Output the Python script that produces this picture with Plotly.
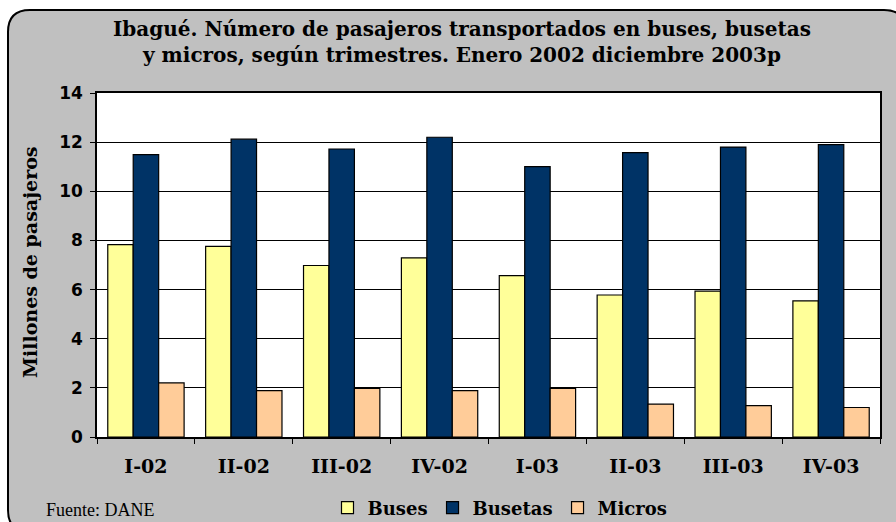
import plotly.graph_objects as go

# Quarterly passengers (millions) by vehicle type, Ibagué 2002-2003
trimestres = ["I-02", "II-02", "III-02", "IV-02", "I-03", "II-03", "III-03", "IV-03"]
buses = [7.83, 7.76, 6.98, 7.29, 6.57, 5.78, 5.94, 5.54]
busetas = [11.49, 12.12, 11.72, 12.20, 11.00, 11.57, 11.80, 11.90]
micros = [2.20, 1.89, 1.98, 1.89, 1.98, 1.34, 1.28, 1.20]
y_ticks = [0, 2, 4, 6, 8, 10, 12, 14]

W_PX, H_PX = 896, 522
L, R, T, B = 97, 16, 93, 85
PW, PH = W_PX - L - R, H_PX - T - B


def px(x):
    return (x - L) / PW


def py(y):
    return (H_PX - B - y) / PH


serif_b = dict(family="DejaVu Serif", color="black", weight="bold")

fig = go.Figure()
for name, vals, color in [("Buses", buses, "#FFFF99"),
                          ("Busetas", busetas, "#003366"),
                          ("Micros", micros, "#FFCC99")]:
    fig.add_trace(go.Bar(
        x=trimestres, y=vals, name=name,
        marker=dict(color=color, line=dict(color="black", width=1.2)),
    ))

# rounded grey frame around the whole chart
x0, y0, x1, y1, r = 8, 10, 906, 532, 22
frame_path = (
    f"M {px(x0 + r)},{py(y0)} L {px(x1 - r)},{py(y0)} "
    f"Q {px(x1)},{py(y0)} {px(x1)},{py(y0 + r)} "
    f"L {px(x1)},{py(y1 - r)} Q {px(x1)},{py(y1)} {px(x1 - r)},{py(y1)} "
    f"L {px(x0 + r)},{py(y1)} Q {px(x0)},{py(y1)} {px(x0)},{py(y1 - r)} "
    f"L {px(x0)},{py(y0 + r)} Q {px(x0)},{py(y0)} {px(x0 + r)},{py(y0)} Z"
)
fig.add_shape(type="path", path=frame_path, xref="paper", yref="paper",
              fillcolor="#C0C0C0", line=dict(color="black", width=2),
              layer="below")
fig.add_shape(type="rect", xref="paper", yref="paper", x0=0, y0=0, x1=1, y1=1,
              fillcolor="white", line=dict(width=0), layer="below")

fig.add_annotation(
    text="Ibagué. Número de pasajeros transportados en buses, busetas<br>"
         "y micros, según trimestres. Enero 2002 diciembre 2003p",
    xref="paper", yref="paper", x=px(462), y=py(42), xanchor="center",
    yanchor="middle", showarrow=False, align="center",
    font=dict(size=20, **serif_b),
)
fig.add_annotation(
    text="Millones de pasajeros", textangle=-90,
    xref="paper", yref="paper", x=px(30), y=py(262), xanchor="center",
    yanchor="middle", showarrow=False, font=dict(size=19, **serif_b),
)
fig.add_annotation(
    text="Fuente: DANE", xref="paper", yref="paper", x=px(44), y=py(510),
    xanchor="left", yanchor="middle", showarrow=False,
    font=dict(family="Liberation Serif", size=18, color="black"),
)

fig.update_layout(
    width=W_PX, height=H_PX,
    margin=dict(l=L, r=R, t=T, b=B, autoexpand=False),
    paper_bgcolor="white", plot_bgcolor="rgba(0,0,0,0)",
    barmode="group", bargap=0.22, bargroupgap=0,
    showlegend=True,
    legend=dict(orientation="h", x=px(500), y=py(508), xanchor="center",
                yanchor="middle", font=dict(size=18, **serif_b),
                itemwidth=30, bgcolor="rgba(0,0,0,0)"),
    xaxis=dict(
        tickson="boundaries", ticks="outside", ticklen=5, tickcolor="black",
        showline=True, linecolor="black", linewidth=1.5, mirror=True,
        tickfont=dict(size=19, **serif_b), ticklabelstandoff=11,
        showgrid=False,
    ),
    yaxis=dict(
        range=[0, 14], tickvals=y_ticks, ticks="outside", ticklen=5,
        tickcolor="black", showline=True, linecolor="black", linewidth=1.5,
        mirror=True, showgrid=True, gridcolor="black", gridwidth=1,
        tickfont=dict(family="DejaVu Sans", size=17, color="black", weight="bold"),
        ticklabelstandoff=4, zeroline=False,
    ),
)

fig.write_html("out.html")
